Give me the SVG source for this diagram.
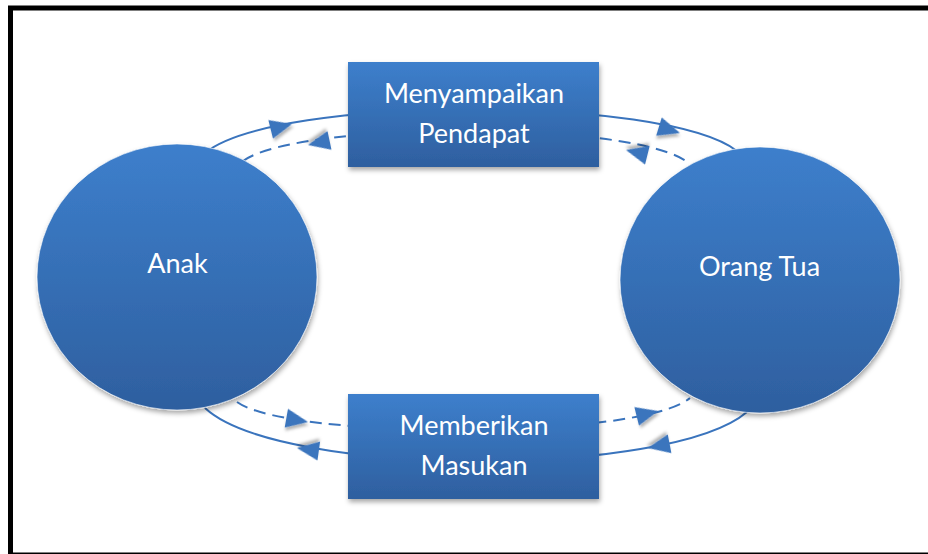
<svg xmlns="http://www.w3.org/2000/svg" width="928" height="554" viewBox="0 0 928 554">
<style>
.lbl{font-family:Lato,"Open Sans","Liberation Sans",sans-serif;font-size:27px;fill:#ffffff;text-anchor:middle}
.node{fill:url(#g);filter:url(#sh)}
.conn{fill:none;stroke:#3a74bd;stroke-width:2}
.dash{stroke-dasharray:12 7}
.ah{fill:#3a74bd;filter:url(#sh2)}
</style>
<defs>
<linearGradient id="g" x1="0" y1="0" x2="0" y2="1">
<stop offset="0" stop-color="#3d7fcc"/>
<stop offset="1" stop-color="#2e5f9f"/>
</linearGradient>
<filter id="sh" x="-20%" y="-20%" width="140%" height="140%">
<feDropShadow dx="1" dy="3" stdDeviation="2.5" flood-color="#000" flood-opacity="0.35"/>
</filter>
<filter id="sh2" x="-50%" y="-50%" width="200%" height="200%">
<feDropShadow dx="1" dy="3" stdDeviation="1.5" flood-color="#000" flood-opacity="0.3"/>
</filter>
<path id="ah" d="M0,0 L-22,-9.5 L-22,9.5 Z"/>
</defs>
<rect width="928" height="554" fill="#ffffff"/>
<rect x="10.5" y="8" width="930" height="547" fill="none" stroke="#000" stroke-width="5"/>
<g id="connectors">
<path class="conn" d="M205,153 C275,95 665,95 737,151"/>
<path class="conn dash" d="M243,161 C300,120 640,120 690,164"/>
<path class="conn dash" d="M237,402 C290,440 640,440 690,398"/>
<path class="conn" d="M205,408 C280,478 670,478 747,412"/>
<use href="#ah" class="ah" transform="translate(292,124) rotate(-14)"/>
<use href="#ah" class="ah" transform="translate(680,133) rotate(17)"/>
<use href="#ah" class="ah" transform="translate(308,145) rotate(168)"/>
<use href="#ah" class="ah" transform="translate(626,150) rotate(194)"/>
<use href="#ah" class="ah" transform="translate(308,422) rotate(10)"/>
<use href="#ah" class="ah" transform="translate(658,411) rotate(-14)"/>
<use href="#ah" class="ah" transform="translate(297,448) rotate(188)"/>
<use href="#ah" class="ah" transform="translate(648,448) rotate(169)"/>
</g>
<g id="anak">
<ellipse class="node" cx="177" cy="277" rx="140" ry="133" stroke="#ffffff" stroke-opacity="0.6" stroke-width="1"/>
<text class="lbl" x="177.5" y="273">Anak</text>
</g>
<g id="orang-tua">
<ellipse class="node" cx="760" cy="280" rx="140" ry="133" stroke="#ffffff" stroke-opacity="0.6" stroke-width="1"/>
<text class="lbl" x="759.5" y="276">Orang Tua</text>
</g>
<g id="menyampaikan-pendapat">
<rect class="node" x="348" y="62" width="251" height="105"/>
<text class="lbl" x="474" y="103">Menyampaikan</text>
<text class="lbl" x="474" y="143">Pendapat</text>
</g>
<g id="memberikan-masukan">
<rect class="node" x="348" y="394" width="251" height="105"/>
<text class="lbl" x="474" y="435">Memberikan</text>
<text class="lbl" x="474" y="475">Masukan</text>
</g>
</svg>
